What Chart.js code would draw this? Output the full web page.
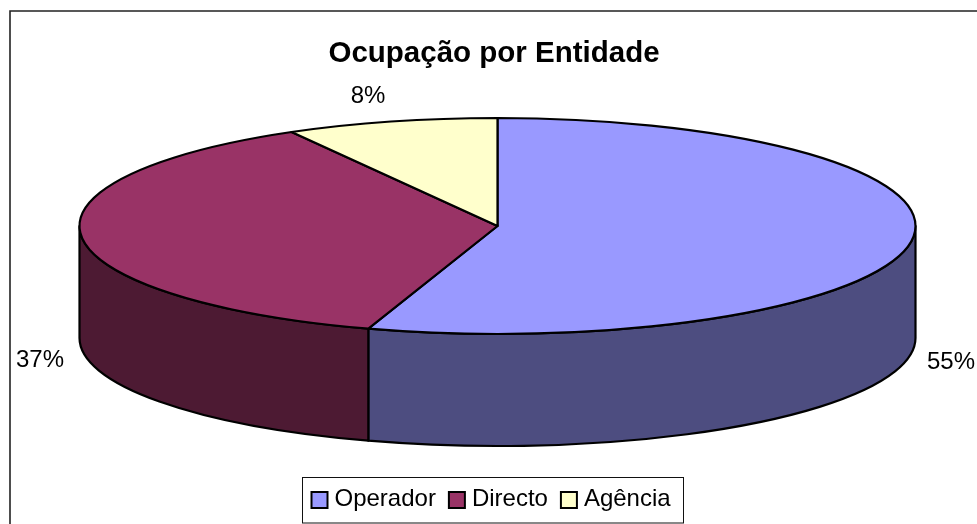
<!DOCTYPE html>
<html>
<head>
<meta charset="utf-8">
<title>Ocupação por Entidade</title>
<script src="https://cdn.jsdelivr.net/npm/chart.js@4"></script>
<style>
  html, body { margin: 0; padding: 0; background: #fff; overflow: hidden; }
  canvas { display: block; }
</style>
</head>
<body>
<canvas id="chart" width="977" height="524"></canvas>
<script>
const categories = ['Operador', 'Directo', 'Agência'];
const shares = [55, 36.8, 8.2];
const topColors = ['#9999ff', '#993366', '#ffffcc'];
const sideColors = ['#4d4d80', '#4d1a33', '#808066'];

// squashed disc the pie is projected onto
const disc = { cx: 497.5, cy: 226, rx: 418, ry: 108, depth: 112 };
// data labels, same order as categories
const labelSpots = [[951, 362], [40, 360], [368, 96]];
const legendBox = { left: 302.5, top: 477.5, right: 683.5, bottom: 523 };

const pie3d = {
  id: 'pie3d',
  beforeDraw(chart) {
    const ctx = chart.ctx;
    ctx.save();
    ctx.fillStyle = '#fff';
    ctx.fillRect(0, 0, chart.width, chart.height);
    // chart frame runs off the picture on the right and at the bottom
    ctx.strokeStyle = '#222';
    ctx.lineWidth = 1.6;
    ctx.beginPath();
    ctx.moveTo(10, chart.height);
    ctx.lineTo(10, 11);
    ctx.lineTo(chart.width, 11);
    ctx.stroke();
    ctx.restore();
  },
  beforeDatasetDraw(chart, args) {
    const ctx = chart.ctx;
    const arcs = args.meta.data;
    ctx.save();
    ctx.lineWidth = 2.2;
    ctx.lineJoin = 'round';
    ctx.strokeStyle = '#000';

    // side wall first: only the part of each slice facing the viewer
    arcs.forEach((arc, i) => {
      for (const [from, to] of [[0, Math.PI], [2 * Math.PI, 3 * Math.PI]]) {
        const s = Math.max(arc.startAngle, from);
        const e = Math.min(arc.endAngle, to);
        if (e <= s) continue;
        ctx.beginPath();
        ctx.ellipse(disc.cx, disc.cy, disc.rx, disc.ry, 0, s, e);
        ctx.ellipse(disc.cx, disc.cy + disc.depth, disc.rx, disc.ry, 0, e, s, true);
        ctx.closePath();
        ctx.fillStyle = sideColors[i];
        ctx.fill();
        ctx.stroke();
      }
    });

    // top face
    arcs.forEach((arc, i) => {
      ctx.beginPath();
      ctx.moveTo(disc.cx, disc.cy);
      ctx.ellipse(disc.cx, disc.cy, disc.rx, disc.ry, 0, arc.startAngle, arc.endAngle);
      ctx.closePath();
      ctx.fillStyle = topColors[i];
      ctx.fill();
      ctx.stroke();
    });

    // percentages
    ctx.fillStyle = '#000';
    ctx.font = '24px "Liberation Sans"';
    ctx.textAlign = 'center';
    ctx.textBaseline = 'middle';
    shares.forEach((v, i) => {
      ctx.fillText(Math.round(v) + '%', labelSpots[i][0], labelSpots[i][1]);
    });
    ctx.restore();
    return false; // the round pie itself is replaced by the disc above
  },
  afterDraw(chart) {
    // legend: the built-in one has a fixed box-to-text gap that is too wide here
    const ctx = chart.ctx;
    ctx.save();
    ctx.strokeStyle = '#111';
    ctx.lineWidth = 1;
    ctx.strokeRect(legendBox.left, legendBox.top, legendBox.right - legendBox.left, legendBox.bottom - legendBox.top);
    ctx.font = '24px "Liberation Sans"';
    ctx.textAlign = 'left';
    ctx.textBaseline = 'alphabetic';
    let x = legendBox.left + 9;
    categories.forEach((name, i) => {
      ctx.fillStyle = topColors[i];
      ctx.strokeStyle = '#000';
      ctx.lineWidth = 2;
      ctx.fillRect(x, 492, 16, 16);
      ctx.strokeRect(x, 492, 16, 16);
      ctx.fillStyle = '#000';
      ctx.fillText(name, x + 23, 506);
      x += 23 + ctx.measureText(name).width + 13;
    });
    ctx.restore();
  },
};

new Chart(document.getElementById('chart'), {
  type: 'pie',
  data: {
    labels: categories,
    datasets: [{ data: shares, backgroundColor: topColors, borderColor: '#000', borderWidth: 2 }],
  },
  options: {
    responsive: false,
    animation: false,
    layout: { padding: { left: 11 } },
    plugins: {
      tooltip: { enabled: false },
      legend: { display: false },
      title: {
        display: true,
        text: 'Ocupação por Entidade',
        color: '#000',
        font: { family: '"Liberation Sans"', size: 29.5, weight: 'bold' },
        padding: { top: 36, bottom: 0 },
      },
    },
  },
  plugins: [pie3d],
});
</script>
</body>
</html>
